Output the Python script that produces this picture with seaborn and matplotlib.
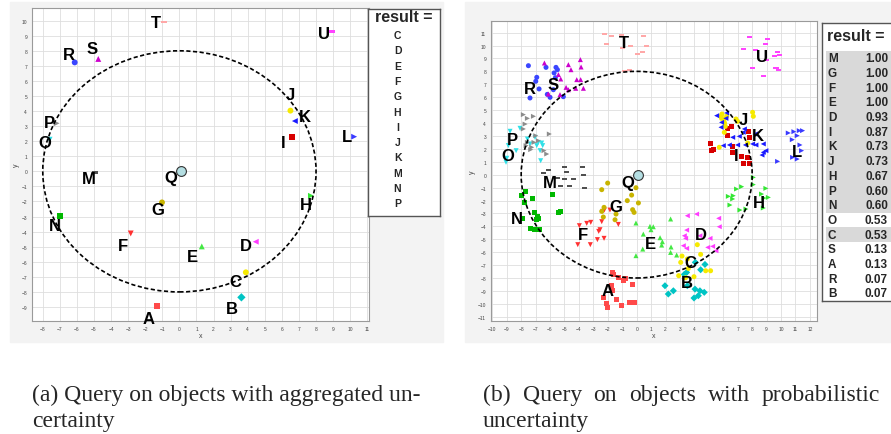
import pandas as pd
import seaborn as sns
import matplotlib.pyplot as plt
from matplotlib.patches import Circle, Rectangle

sns.set_theme(style='whitegrid')
plt.rcParams['font.family'] = ['Liberation Sans', 'DejaVu Sans']

# query: centre point Q and radius of the range
QUERY_CENTER = (0.0, 0.0)
QUERY_RADIUS = 8

# ---- (a) aggregated uncertainty: one location per object ----
AGG_OBJ = list('ABCDEFGHIJKLMNOPRSTU')
AGG_X = [-1.31, 3.63, 3.89, 4.47, 1.31, -2.85, -1.02, 7.70, 6.60, 6.50,
         6.76, 10.23, -4.94, -6.97, -7.60, -7.19, -6.13, -4.75, -0.90, 8.93]
AGG_Y = [-8.92, -8.36, -6.70, -4.67, -4.98, -4.12, -2.06, -1.62, 2.26, 4.03,
         3.34, 2.30, -0.07, -2.94, 2.10, 3.19, 7.23, 7.46, 9.93, 9.27]
AGG_LABEL_X = [-1.82, 3.07, 3.28, 3.89, 0.78, -3.32, -1.29, 7.42, 6.05, 6.50,
               7.36, 9.80, -5.29, -7.29, -7.87, -7.62, -6.46, -5.14, -1.39, 8.48]
AGG_LABEL_Y = [-9.76, -9.09, -7.32, -4.93, -5.64, -4.89, -2.50, -2.17, 1.92, 5.07,
               3.65, 2.30, -0.46, -3.56, 1.92, 3.25, 7.74, 8.12, 9.85, 9.16]
AGG_Q = (0.10, 0.04)
AGG_Q_LABEL = (-0.49, -0.44)
RESULT_A = list('CDEFGHIJKMNP')

# ---- (b) probabilistic uncertainty: sample positions per object ----
A_x = [-1.68, -1.59, -1.27, -0.92, -0.78, -0.28, -1.73, -1.68, -2.31, -2.08, -2.03, -1.43, -1.04, -0.53, -0.18]
A_y = [-7.57, -7.72, -7.95, -8.16, -8.03, -8.47, -8.60, -8.93, -9.53, -9.94, -10.28, -9.63, -10.10, -9.89, -9.89]
B_x = [4.06, 4.73, 4.43, 3.46, 3.30, 3.51, 1.96, 2.19, 2.54, 4.04, 4.38, 4.68, 4.27, 3.97]
B_y = [-6.79, -6.95, -7.36, -7.57, -7.72, -8.60, -8.60, -9.24, -8.99, -8.86, -8.99, -9.11, -9.37, -9.55]
C_x = [3.05, 3.51, 4.20, 4.43, 3.14, 3.58, 4.78, 5.12, 2.91, 3.39, 3.97]
C_y = [-6.79, -6.53, -5.42, -6.17, -6.30, -7.26, -7.44, -7.44, -7.82, -7.98, -7.90]
D_x = [3.51, 4.15, 5.68, 5.72, 3.46, 3.30, 3.39, 4.38, 5.08, 4.92, 5.26, 5.49, 3.23, 3.46]
D_y = [-3.18, -3.05, -3.38, -4.03, -4.29, -4.73, -4.93, -4.73, -4.93, -5.63, -5.55, -5.89, -5.50, -5.71]
E_x = [-0.05, 0.46, 0.92, 0.99, 1.15, 1.62, 1.78, 1.73, 0.42, -0.05, 2.35, 2.38, 2.35, 2.77]
E_y = [-3.74, -4.60, -4.00, -4.26, -4.03, -4.88, -5.19, -5.45, -5.76, -6.27, -3.43, -5.60, -6.02, -6.22]
F_x = [-3.97, -3.46, -3.18, -2.35, -2.24, -2.42, -2.54, -2.63, -2.26, -2.72, -4.08, -3.21, -1.85, -1.27]
F_y = [-3.95, -3.77, -3.69, -2.84, -2.74, -3.64, -4.26, -4.39, -4.93, -5.03, -5.42, -5.42, -2.74, -3.85]
G_x = [-2.01, -2.42, -0.05, -0.35, -0.65, 0.12, -0.28, -0.18, -2.42, -2.31, -1.43, -1.50, -2.26]
G_y = [-0.65, -1.16, -1.01, -1.58, -2.01, -2.19, -2.71, -2.92, -2.84, -3.28, -3.05, -3.49, -2.53]
H_x = [6.35, 6.69, 6.65, 6.92, 7.27, 6.46, 7.15, 7.57, 8.08, 8.08, 8.65, 8.82, 8.95, 9.12, 8.77]
H_y = [-1.68, -1.63, -1.88, -1.11, -0.93, -2.35, -2.74, -2.66, -0.21, -0.77, -1.50, -1.81, -1.06, -1.76, -2.58]
I_x = [5.12, 5.15, 5.35, 6.30, 6.60, 6.30, 6.65, 6.65, 7.29, 7.39, 7.69, 7.80, 7.80, 7.76]
I_y = [2.45, 1.86, 1.94, 3.59, 3.74, 3.02, 2.19, 1.73, 1.42, 0.90, 1.34, 0.90, 2.89, 3.33]
J_x = [5.91, 5.88, 6.07, 6.09, 6.14, 6.07, 5.72, 6.88, 6.99, 8.03, 8.08, 7.69, 6.23, 5.84]
J_y = [4.70, 4.36, 4.31, 4.00, 3.74, 3.28, 2.12, 4.31, 4.13, 4.83, 4.52, 2.45, 4.52, 4.52]
K_x = [5.54, 5.88, 6.23, 6.18, 5.84, 6.65, 7.46, 7.11, 7.38, 8.22, 8.03, 6.00, 6.42, 6.99, 7.53, 8.26, 8.77, 8.77, 8.95, 8.68]
K_y = [4.57, 4.05, 4.78, 4.36, 3.67, 2.89, 3.54, 2.97, 3.28, 3.15, 2.38, 2.25, 2.30, 2.30, 2.30, 2.30, 2.38, 1.73, 1.86, 1.52]
L_x = [10.50, 10.89, 11.12, 11.26, 11.49, 10.78, 11.31, 11.42, 10.80, 11.12, 9.76]
L_y = [3.23, 3.33, 3.02, 3.41, 3.41, 2.71, 2.30, 1.86, 1.34, 1.21, 1.03]
M_x = [-4.98, -3.76, -6.09, -6.42, -5.49, -4.89, -5.03, -4.41, -5.31, -4.66, -3.69, -3.62]
M_y = [0.57, 0.57, 0.39, 0.13, -0.28, 0.18, -0.34, -0.34, -0.85, -0.85, 0.00, -1.01]
N_x = [-7.68, -7.96, -7.22, -7.80, -5.82, -7.11, -6.85, -6.79, -6.97, -7.34, -7.09, -6.76, -5.42, -5.31, -7.94]
N_y = [-1.32, -1.58, -1.88, -2.19, -1.50, -2.94, -3.23, -3.38, -3.49, -4.16, -4.21, -4.21, -2.92, -2.84, -3.38]
O_x = [-8.77, -8.08, -8.89, -9.05, -9.00, -7.04, -6.81, -6.58, -6.69, -6.65, -6.92, -7.57, -6.51, -7.39, -8.35]
O_y = [3.36, 3.59, 2.25, 0.96, 1.27, 2.89, 2.50, 2.45, 1.86, 1.08, 2.25, 2.76, 2.25, 2.38, 1.86]
P_x = [-7.85, -7.57, -7.15, -7.73, -7.85, -7.57, -7.27, -7.11, -6.99, -6.05, -6.42, -6.23, -7.34, -7.66, -6.81]
P_y = [4.65, 4.36, 4.52, 3.92, 3.54, 2.50, 2.12, 2.50, 3.02, 3.15, 1.86, 1.60, 1.94, 2.25, 2.63]
R_x = [-7.50, -6.28, -6.92, -6.99, -6.76, -7.39, -6.00, -5.59, -5.49, -5.72, -5.63, -5.77, -5.08, -6.19]
R_y = [8.44, 8.31, 7.54, 7.23, 6.64, 5.94, 5.99, 8.31, 8.13, 7.88, 7.51, 6.58, 6.04, 6.22]
S_x = [-6.39, -5.42, -5.26, -4.73, -4.55, -3.90, -3.85, -4.15, -3.88, -4.89, -4.73, -4.22, -3.69, -5.31, -6.12]
S_y = [8.65, 7.75, 7.41, 8.52, 8.13, 8.91, 8.34, 7.36, 7.36, 6.76, 6.58, 6.69, 6.69, 6.20, 6.25]
T_x = [-2.26, -1.73, -1.04, -2.08, -0.99, -0.42, 0.46, 0.37, 0.05, 0.65, -0.85, -0.53]
T_y = [10.90, 10.77, 10.82, 10.10, 9.79, 9.94, 10.77, 9.53, 9.35, 9.99, 8.06, 8.11]
U_x = [7.80, 9.05, 7.39, 8.24, 8.91, 9.74, 9.92, 9.53, 9.00, 7.99, 8.77, 9.65, 9.83]
U_y = [10.64, 10.48, 9.73, 9.66, 10.12, 9.48, 9.30, 9.22, 8.91, 8.24, 7.67, 8.26, 8.13]

PROB_LABEL_X = [-2.03, 3.51, 3.74, 4.45, 0.92, -3.74, -1.43, 8.47, 6.92, 7.39,
                8.42, 11.12, -6.05, -8.31, -8.93, -8.61, -7.39, -5.82, -0.88, 8.70]
PROB_LABEL_Y = [-8.93, -8.34, -6.79, -4.65, -5.32, -4.67, -2.45, -2.19, 1.52, 4.26,
                3.02, 1.78, -0.59, -3.38, 1.52, 2.76, 6.69, 6.97, 10.25, 9.17]
PROB_Q = (0.07, 0.00)
PROB_Q_LABEL = (-0.58, -0.59)

RESULT_B = ['M', 'G', 'F', 'E', 'D', 'I', 'K', 'J', 'H', 'P', 'N', 'O', 'C', 'S', 'A', 'R', 'B']
RESULT_B_PROB = [1.00, 1.00, 1.00, 1.00, 0.93, 0.87, 0.73, 0.73, 0.67, 0.60, 0.60,
                 0.53, 0.53, 0.13, 0.13, 0.07, 0.07]
RESULT_B_SELECTED = [True] * 11 + [False, True, False, False, False, False]

COLORS = {'A': '#ff4a4a', 'B': '#00c4c4', 'C': '#f6ea00', 'D': '#ff3cff', 'E': '#44e844',
          'F': '#ff3030', 'G': '#c8b400', 'H': '#33e633', 'I': '#d80000', 'J': '#f6ea00',
          'K': '#1a1aff', 'L': '#3a3aff', 'M': '#505050', 'N': '#00b800', 'O': '#30e0e8',
          'P': '#8c8c8c', 'R': '#3a46ff', 'S': '#cc00cc', 'T': '#ffa8a8', 'U': '#ff44ff'}
DASH = [(-1, -0.4), (1, -0.4), (1, 0.4), (-1, 0.4)]
MARKERS = {'A': 's', 'B': 'D', 'C': 'o', 'D': '<', 'E': '^', 'F': 'v', 'G': 'o', 'H': '>',
           'I': 's', 'J': 'o', 'K': '<', 'L': '>', 'M': DASH, 'N': 's', 'O': 'v', 'P': '>',
           'R': 'o', 'S': '^', 'T': DASH, 'U': DASH}

samples = {'A': (A_x, A_y), 'B': (B_x, B_y), 'C': (C_x, C_y), 'D': (D_x, D_y), 'E': (E_x, E_y),
           'F': (F_x, F_y), 'G': (G_x, G_y), 'H': (H_x, H_y), 'I': (I_x, I_y), 'J': (J_x, J_y),
           'K': (K_x, K_y), 'L': (L_x, L_y), 'M': (M_x, M_y), 'N': (N_x, N_y), 'O': (O_x, O_y),
           'P': (P_x, P_y), 'R': (R_x, R_y), 'S': (S_x, S_y), 'T': (T_x, T_y), 'U': (U_x, U_y)}
rows = []
for obj, (xs, ys) in samples.items():
    rows += [(obj, x, y) for x, y in zip(xs, ys)]
df_b = pd.DataFrame(rows, columns=['obj', 'x', 'y'])
df_a = pd.DataFrame({'obj': AGG_OBJ, 'x': AGG_X, 'y': AGG_Y})

W, H = 891, 435
fig = plt.figure(figsize=(W / 100, H / 100), dpi=100)


def px_box(x0, y0, x1, y1):
    # pixel box (from top-left) -> figure fraction rect
    return [x0 / W, 1 - y1 / H, (x1 - x0) / W, (y1 - y0) / H]


# light grey panels behind each chart
for x0, x1 in [(10, 443), (465, 900)]:
    fig.patches.append(Rectangle((x0 / W, 1 - 343 / H), (x1 - x0) / W, 340 / H,
                                 transform=fig.transFigure, color='#f3f3f3', zorder=-5))


def draw_panel(rect, df, labels, lx, ly, q, q_label, xr, yr, xlim, ylim, marker_size):
    ax = fig.add_axes(rect)
    ax.set_facecolor('white')
    sns.scatterplot(data=df, x='x', y='y', hue='obj', style='obj', palette=COLORS,
                    markers=MARKERS, s=marker_size, edgecolor='none', legend=False,
                    ax=ax, zorder=3)
    ax.add_patch(Circle(QUERY_CENTER, QUERY_RADIUS, fill=False, ec='black', lw=1.2,
                        ls=(0, (2.5, 1.5)), zorder=4))
    ax.scatter([q[0]], [q[1]], s=50, c='#b4dee2', edgecolors='#333333', linewidths=0.8, zorder=5)
    for name, x, y in zip(labels + ['Q'], lx + [q_label[0]], ly + [q_label[1]]):
        ax.text(x, y, name, ha='center', va='center', fontsize=12, fontweight='bold',
                color='black', zorder=6)
    ax.set_xticks(range(xr[0], xr[1] + 1))
    ax.set_yticks(range(yr[0], yr[1] + 1))
    ax.set_xlim(*xlim)
    ax.set_ylim(*ylim)
    ax.grid(True, color='#dedede', lw=0.6)
    ax.tick_params(labelsize=3.5, labelcolor='#444444', length=2, width=0.4,
                   color='#999999', pad=1.5)
    ax.set_xlabel('x', fontsize=5, color='#444444', labelpad=1)
    ax.set_ylabel('y', fontsize=5, color='#444444', labelpad=1)
    for sp in ax.spines.values():
        sp.set_color('#9a9a9a')
        sp.set_linewidth(0.8)
    return ax


draw_panel(px_box(32, 9, 369, 322), df_a, AGG_OBJ, AGG_LABEL_X, AGG_LABEL_Y, AGG_Q, AGG_Q_LABEL,
           (-8, 11), (-9, 10), (-8.63, 11.1), (-9.93, 10.84), 18)
draw_panel(px_box(491, 22, 817, 322), df_b, AGG_OBJ, PROB_LABEL_X, PROB_LABEL_Y, PROB_Q,
           PROB_Q_LABEL, (-10, 12), (-11, 11), (-10.09, 12.49), (-11.33, 11.9), 13)

# result box of (a)
leg = fig.add_axes(px_box(368, 10, 440, 217))
leg.set_xlim(0, 1)
leg.set_ylim(207, 0)
leg.set_xticks([])
leg.set_yticks([])
leg.set_facecolor('white')
for sp in leg.spines.values():
    sp.set_color('#555555')
    sp.set_linewidth(1.0)
leg.text(0.5, 8, 'result =', ha='center', va='center', fontsize=11.5, fontweight='bold')
for i, name in enumerate(RESULT_A):
    leg.text(0.41, 26 + i * 15.3, name, ha='center', va='center', fontsize=7.5, fontweight='bold')

# result box of (b), cut by the right border
leg = fig.add_axes(px_box(822, 24, 905, 302))
leg.set_xlim(0, 83)
leg.set_ylim(278, 0)
leg.set_xticks([])
leg.set_yticks([])
leg.set_facecolor('white')
for sp in leg.spines.values():
    sp.set_color('#555555')
    sp.set_linewidth(1.0)
leg.text(5, 13, 'result =', ha='left', va='center', fontsize=11.5, fontweight='bold')
for i, (name, p, sel) in enumerate(zip(RESULT_B, RESULT_B_PROB, RESULT_B_SELECTED)):
    yc = 35.3 + i * 14.7
    if sel:
        leg.add_patch(Rectangle((4, yc - 7.35), 90, 14.7, color='#d9d9d9', lw=0, zorder=0))
    leg.text(6, yc, name, ha='left', va='center', fontsize=8.5, fontweight='bold', zorder=2)
    leg.text(66, yc, f'{p:.2f}', ha='right', va='center', fontsize=8.5, fontweight='bold', zorder=2)

# captions; the first line of (b) is justified like the paper's column text
cap = dict(family=['Liberation Serif', 'DejaVu Serif'], fontsize=17, va='baseline', ha='left')
renderer = fig.canvas.get_renderer()


def caption_line(x0, x1, y, text, justify):
    if not justify:
        fig.text(x0 / W, 1 - y / H, text, **cap)
        return
    words = text.split()
    items = [fig.text(0, 1 - y / H, w, **cap) for w in words]
    widths = [t.get_window_extent(renderer).width for t in items]
    gap = (x1 - x0 - sum(widths)) / (len(words) - 1)
    x = x0
    for t, w in zip(items, widths):
        t.set_x(x / W)
        x += w + gap


caption_line(32, 420, 401, '(a) Query on objects with aggregated un-', False)
caption_line(32, 420, 427, 'certainty', False)
caption_line(483, 880, 401, '(b) Query on objects with probabilistic', True)
caption_line(483, 880, 427, 'uncertainty', False)

fig.savefig('out.png', dpi=100)
